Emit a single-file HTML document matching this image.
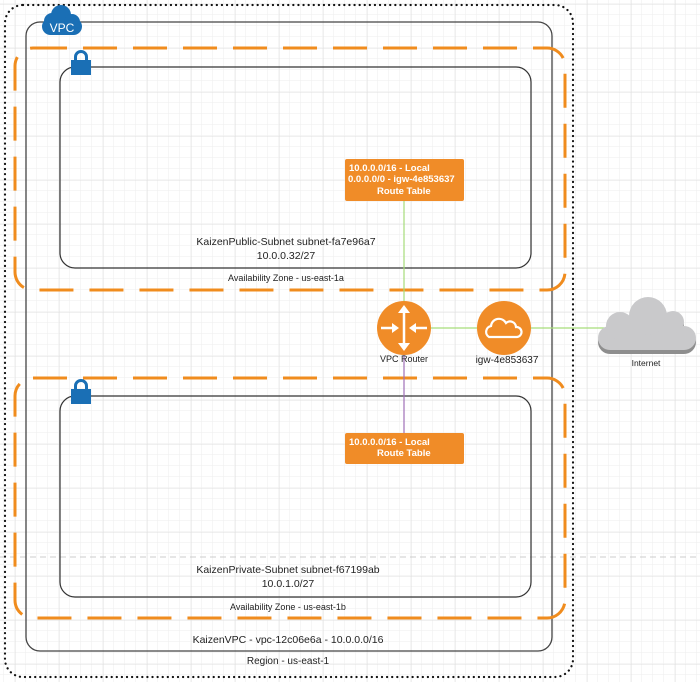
<!DOCTYPE html>
<html><head><meta charset="utf-8"><style>
html,body{margin:0;padding:0;background:#fff;}
body{width:700px;height:682px;overflow:hidden;font-family:"Liberation Sans",sans-serif;}
</style></head><body>
<svg width="700" height="682" xmlns="http://www.w3.org/2000/svg" font-family="Liberation Sans, sans-serif">
<defs>
<pattern id="minor" x="4" y="4" width="11" height="11" patternUnits="userSpaceOnUse">
<path d="M11 0V11M0 11H11" stroke="#eeeeee" stroke-width="1" fill="none"/>
</pattern>
<pattern id="major" x="15" y="4" width="44" height="44" patternUnits="userSpaceOnUse">
<path d="M0 0V44M0 0H44" stroke="#e0e0e0" stroke-width="1" fill="none"/>
</pattern>
</defs>
<rect width="700" height="682" fill="url(#minor)"/>
<rect width="700" height="682" fill="url(#major)"/>
<line x1="0" y1="557" x2="700" y2="557" stroke="#ccc" stroke-dasharray="6,4"/>

<!-- region -->
<rect x="5" y="5" width="568" height="672" rx="18" fill="none" stroke="#111" stroke-width="2.2" stroke-dasharray="0.1,5" stroke-linecap="round"/>
<!-- VPC -->
<rect x="26" y="22" width="526" height="629" rx="14" fill="none" stroke="#444" stroke-width="1.3"/>
<!-- AZ1 -->
<rect x="15" y="48" width="550" height="242" rx="18" fill="none" stroke="#f08c1e" stroke-width="3" stroke-dasharray="34,16"/>
<rect x="60" y="67" width="471" height="201" rx="15" fill="none" stroke="#333" stroke-width="1.2"/>
<!-- AZ2 -->
<rect x="15" y="378" width="550" height="240" rx="18" fill="none" stroke="#f08c1e" stroke-width="3" stroke-dasharray="34,16"/>
<rect x="60" y="396" width="471" height="201" rx="15" fill="none" stroke="#333" stroke-width="1.2"/>

<!-- connectors -->
<line x1="404" y1="201" x2="404" y2="302" stroke="#a6dd7a" stroke-width="1.2"/>
<line x1="404" y1="354" x2="404" y2="433" stroke="#a070b8" stroke-width="1.2"/>
<line x1="431" y1="328" x2="610" y2="328" stroke="#a6dd7a" stroke-width="1.2"/>

<!-- route tables -->
<rect x="345" y="159" width="119" height="42" rx="2" fill="#f08c28"/>
<g fill="#fff" font-size="9.5" font-weight="bold">
<text x="349" y="171">10.0.0.0/16 - Local</text>
<text x="348" y="182">0.0.0.0/0 - igw-4e853637</text>
<text x="377" y="194">Route Table</text>
</g>
<rect x="345" y="433" width="119" height="31" rx="2" fill="#f08c28"/>
<g fill="#fff" font-size="9.5" font-weight="bold">
<text x="349" y="445">10.0.0.0/16 - Local</text>
<text x="377" y="456">Route Table</text>
</g>

<!-- router -->
<circle cx="404" cy="328" r="27" fill="#f08c28"/>
<g stroke="#fff" stroke-width="2.5" fill="#fff">
<line x1="404" y1="310" x2="404" y2="346"/>
<path d="M398 313 L404 305 L410 313Z" stroke="none"/>
<path d="M398 343 L404 351 L410 343Z" stroke="none"/>
<line x1="381" y1="328" x2="393" y2="328"/>
<path d="M392 323 L399 328 L392 333Z" stroke="none"/>
<line x1="415" y1="328" x2="427" y2="328"/>
<path d="M416 323 L409 328 L416 333Z" stroke="none"/>
</g>
<text x="404" y="362" font-size="9" fill="#222" text-anchor="middle">VPC Router</text>

<!-- igw -->
<circle cx="504" cy="328" r="27" fill="#f08c28"/>
<path d="M489 337 a6 6 0 0 1 2 -11 a8 8 0 0 1 15 -3 a6 6 0 0 1 10 4 a5 5 0 0 1 1 10 Z" fill="none" stroke="#fff" stroke-width="2.2"/>
<text x="507" y="363" font-size="10" fill="#222" text-anchor="middle">igw-4e853637</text>

<!-- internet cloud -->
<g fill="#8e8e8e">
<rect x="598" y="330" width="98" height="24" rx="12"/>
<circle cx="620" cy="330" r="14"/><circle cx="648" cy="320" r="19"/><circle cx="673" cy="326" r="11"/>
</g>
<g fill="#c9c9cb">
<rect x="598" y="326" width="98" height="24" rx="12"/>
<circle cx="620" cy="326" r="14"/><circle cx="648" cy="316" r="19"/><circle cx="673" cy="322" r="11"/>
</g>
<text x="646" y="366" font-size="8.5" fill="#222" text-anchor="middle">Internet</text>

<!-- VPC icon -->
<g fill="#1a6fb5">
<rect x="42" y="18" width="40" height="17" rx="8.5"/>
<circle cx="52" cy="21" r="8"/><circle cx="61" cy="15" r="10"/><circle cx="72" cy="22" r="8"/>
</g>
<text x="62" y="32" font-size="12" fill="#fff" text-anchor="middle">VPC</text>

<!-- locks -->
<g fill="#1a6fb5">
<rect x="71" y="60" width="20" height="15"/>
<path d="M74 61 v-4 a7 7 0 0 1 14 0 v4 h-3 v-4 a4 4 0 0 0 -8 0 v4Z"/>
<rect x="71" y="389" width="20" height="15"/>
<path d="M74 390 v-4 a7 7 0 0 1 14 0 v4 h-3 v-4 a4 4 0 0 0 -8 0 v4Z"/>
</g>

<!-- labels -->
<g fill="#222" text-anchor="middle">
<text x="286" y="245" font-size="10.5">KaizenPublic-Subnet subnet-fa7e96a7</text>
<text x="286" y="259" font-size="10.5">10.0.0.32/27</text>
<text x="286" y="281" font-size="9">Availability Zone - us-east-1a</text>
<text x="288" y="573" font-size="10.5">KaizenPrivate-Subnet subnet-f67199ab</text>
<text x="288" y="587" font-size="10.5">10.0.1.0/27</text>
<text x="288" y="610" font-size="9">Availability Zone - us-east-1b</text>
<text x="288" y="643" font-size="10.5">KaizenVPC - vpc-12c06e6a - 10.0.0.0/16</text>
<text x="288" y="664" font-size="10">Region - us-east-1</text>
</g>
</svg>
</body></html>
